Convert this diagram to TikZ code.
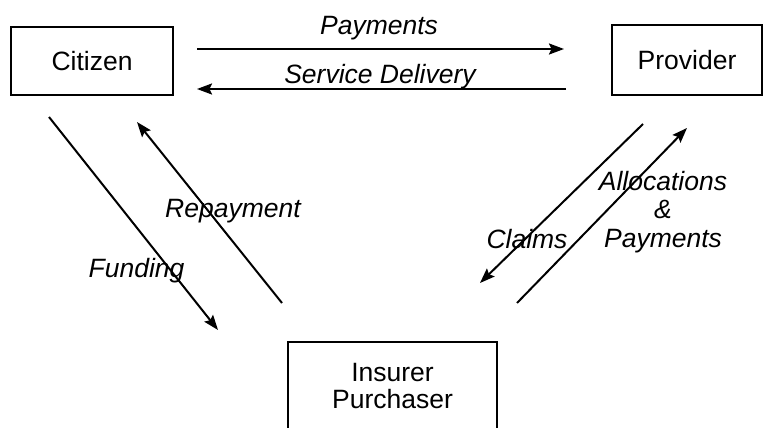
\documentclass[tikz,border=0pt]{standalone}
\usepackage{fontspec}
\setmainfont{Liberation Sans}
\usetikzlibrary{arrows.meta}
\begin{document}
\begin{tikzpicture}[x=1pt,y=-1pt,
  party/.style={draw, line width=2pt, inner sep=0pt,
    font=\fontsize{26.5}{27}\selectfont},
  flow/.style={line width=2pt, -{Stealth[length=15pt,width=11pt,inset=2.5pt]}},
  flowlabel/.style={inner sep=0pt, font=\fontsize{26.5}{28.5}\selectfont\itshape}]
\useasboundingbox (0,0) rectangle (763,428);
\fill[white] (0,0) rectangle (763,428);

% parties
\node[party, minimum width=162pt, minimum height=68pt] (cit) at (92,61) {Citizen};
\node[party, minimum width=150pt, minimum height=70pt] (prov) at (687,60) {Provider};
\node[party, draw=none, align=center, minimum width=207pt, minimum height=87pt]
  (ins) at (392.5,386.5) {Insurer\\Purchaser};
\draw[line width=2pt] (ins.south west) -- (ins.north west) -- (ins.north east) -- (ins.south east);

% flow end points
\coordinate (payA) at (197,49);  \coordinate (payB) at (564,49);
\coordinate (svcA) at (566,89);  \coordinate (svcB) at (197,89);
\coordinate (funA) at (49,117);  \coordinate (funB) at (218,330);
\coordinate (repA) at (282,303); \coordinate (repB) at (137,122);
\coordinate (clmA) at (643,124); \coordinate (clmB) at (480,283);
\coordinate (alcA) at (517,303); \coordinate (alcB) at (687,128);

% flows
\draw[flow] (payA) -- (payB);
\draw[flow] (svcA) -- (svcB);
\draw[flow] (funA) -- (funB);
\draw[flow] (repA) -- (repB);
\draw[flow] (clmA) -- (clmB);
\draw[flow] (alcA) -- (alcB);

% flow labels
\node[flowlabel, anchor=base] (lpay) at (379,35) {Payments};
\node[flowlabel, anchor=base] (lsvc) at (380,83) {Service Delivery};
\node[flowlabel, anchor=base] (lrep) at (233,217) {Repayment};
\node[flowlabel, anchor=base] (lfun) at (136.5,277) {Funding};
\node[flowlabel, anchor=base] (lclm) at (527,248) {Claims};
\node[flowlabel, align=center, anchor=north] (lalc) at (663,171) {Allocations\\\&\\Payments};
\end{tikzpicture}
\end{document}
